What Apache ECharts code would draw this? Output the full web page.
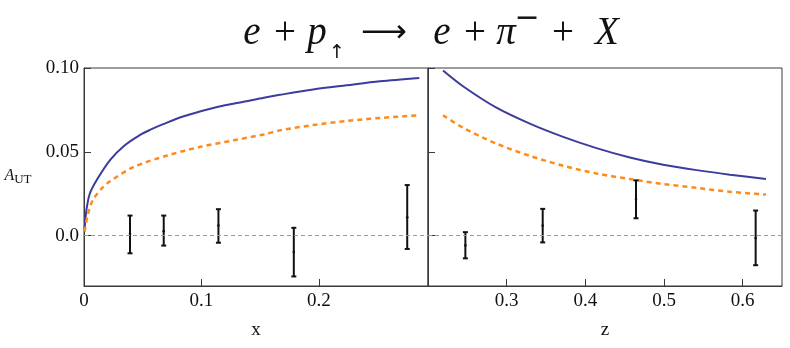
<!DOCTYPE html>
<html>
<head>
<meta charset="utf-8">
<script src="https://cdn.jsdelivr.net/npm/echarts@6/dist/echarts.min.js"></script>
<style>
    html, body { margin: 0; padding: 0; background: #fff; }
    #main { width: 790px; height: 348px; }
</style>
</head>
<body>
<div id="main"></div>
<script>
'use strict';

// model curves vs x  [x, A_UT]
var xCurveSolid = [
    [0.0005, 0.004], [0.002, 0.015], [0.0049, 0.025], [0.0111, 0.0335],
    [0.0225, 0.0454], [0.0338, 0.0534], [0.0475, 0.060], [0.0566, 0.0632],
    [0.0674, 0.0665], [0.085, 0.0712], [0.1134, 0.0767], [0.1384, 0.0802],
    [0.1532, 0.0823], [0.1668, 0.084], [0.1952, 0.0872], [0.2237, 0.0897],
    [0.2521, 0.0921], [0.2856, 0.0941]
];
var xCurveDashed = [
    [0.0005, 0.0025], [0.0034, 0.013], [0.0077, 0.0215], [0.0162, 0.029],
    [0.0225, 0.0326], [0.0424, 0.041], [0.0708, 0.0478], [0.0992, 0.053],
    [0.1276, 0.0569], [0.1532, 0.0604], [0.1668, 0.0628], [0.1952, 0.066],
    [0.2237, 0.0684], [0.2521, 0.0702], [0.2856, 0.0718]
];
// model curves vs z
var zCurveSolid = [
    [0.2191, 0.0985], [0.2445, 0.0891], [0.287, 0.0763], [0.3294, 0.0668],
    [0.3718, 0.0589], [0.4142, 0.0522], [0.4566, 0.0466], [0.499, 0.0423],
    [0.5415, 0.0391], [0.5838, 0.0364], [0.6296, 0.0338]
];
var zCurveDashed = [
    [0.2191, 0.0718], [0.2445, 0.0644], [0.287, 0.0549], [0.3294, 0.0476],
    [0.3718, 0.0417], [0.4142, 0.0371], [0.4566, 0.0338], [0.499, 0.0308],
    [0.5415, 0.0285], [0.5838, 0.0262], [0.6296, 0.0245]
];

// data points  [bin, value, low, high]
var xPoints = [
    [0.0392, 0.0012, -0.0105, 0.012],
    [0.0679, 0.0027, -0.0059, 0.012],
    [0.1145, 0.0061, -0.0042, 0.0158],
    [0.1787, -0.0097, -0.0243, 0.0047],
    [0.2753, 0.011, -0.0079, 0.0302]
];
var zPoints = [
    [0.2475, -0.0058, -0.0135, 0.0021],
    [0.3458, 0.0061, -0.004, 0.016],
    [0.4644, 0.0219, 0.0104, 0.033],
    [0.6165, -0.0014, -0.0176, 0.015]
];

// tick labels
var yTickValues = [0, 0.05, 0.10];
var yTickLabels = ['0.0', '0.05', '0.10'];
var xTickLabels = { '0': '0', '0.1': '0.1', '0.2': '0.2' };
var zTickLabels = { '0.3': '0.3', '0.4': '0.4', '0.5': '0.5', '0.6': '0.6' };

var serif = '"Liberation Serif", "DejaVu Serif", serif';
var sans = '"DejaVu Sans", sans-serif';
var frameColor = '#3a3a3a';
var solidColor = '#3c3c9c';
var dashedColor = '#ff8a1c';

function renderErrorBar(params, api) {
    var x = api.value(0);
    var mid = api.coord([x, api.value(1)]);
    var low = api.coord([x, api.value(2)]);
    var high = api.coord([x, api.value(3)]);
    var cap = 2.5;
    var style = { stroke: '#111', lineWidth: 2 };
    return {
        type: 'group',
        children: [
            { type: 'line', shape: { x1: high[0], y1: high[1], x2: low[0], y2: low[1] }, style: style },
            { type: 'line', shape: { x1: high[0] - cap, y1: high[1], x2: high[0] + cap, y2: high[1] }, style: style },
            { type: 'line', shape: { x1: low[0] - cap, y1: low[1], x2: low[0] + cap, y2: low[1] }, style: style },
            { type: 'circle', shape: { cx: mid[0], cy: mid[1], r: 1.3 }, style: { fill: '#111' } }
        ]
    };
}

function yAxisFor(gridIndex, showLabels) {
    return {
        type: 'value',
        gridIndex: gridIndex,
        min: -0.03,
        max: 0.10,
        splitLine: { show: false },
        axisLine: { show: true, onZero: false, lineStyle: { color: frameColor, width: 1 } },
        axisTick: {
            show: true, inside: true, length: 7,
            customValues: yTickValues,
            lineStyle: { color: frameColor }
        },
        axisLabel: {
            show: showLabels,
            customValues: yTickValues,
            margin: 5,
            fontFamily: serif,
            fontSize: 19,
            color: '#111',
            formatter: function(v) {
                var i = yTickValues.indexOf(v);
                return i >= 0 ? yTickLabels[i] : '';
            }
        }
    };
}

function xAxisFor(gridIndex, min, max, name, labels) {
    return {
        type: 'value',
        gridIndex: gridIndex,
        min: min,
        max: max,
        interval: 0.1,
        name: name,
        nameLocation: 'middle',
        nameGap: 35,
        nameTextStyle: { fontFamily: serif, fontSize: 19, color: '#111' },
        splitLine: { show: false },
        axisLine: { show: true, onZero: false, lineStyle: { color: frameColor, width: 1 } },
        axisTick: { show: true, inside: true, length: 7, lineStyle: { color: frameColor } },
        axisLabel: {
            margin: 6,
            fontFamily: serif,
            fontSize: 19,
            color: '#111',
            showMinLabel: min === 0,
            showMaxLabel: false,
            formatter: function(v) {
                var key = String(Math.round(v * 10) / 10);
                return labels[key] || '';
            }
        }
    };
}

function curve(name, data, idx, dashed) {
    return {
        name: name,
        type: 'line',
        xAxisIndex: idx,
        yAxisIndex: idx,
        data: data,
        smooth: 0.3,
        showSymbol: false,
        z: 3,
        lineStyle: dashed
            ? { color: dashedColor, width: 2.5, type: [5, 4] }
            : { color: solidColor, width: 2 }
    };
}

function titleGlyph(text, cx, cy, size, italic, family) {
    return {
        type: 'text',
        x: cx,
        y: cy,
        style: {
            text: text,
            align: 'center',
            verticalAlign: 'middle',
            fontFamily: family || serif,
            fontStyle: italic ? 'italic' : 'normal',
            fontSize: size,
            fill: '#111'
        }
    };
}

//A_UT chart
function drawChart() {
    var myChart = echarts.init(document.getElementById('main'));
    var zeroLine = {
        silent: true,
        symbol: 'none',
        label: { show: false },
        lineStyle: { color: '#999', type: [4, 3], width: 1 },
        data: [{ yAxis: 0 }]
    };
    var option = {
        animation: false,
        backgroundColor: '#fff',
        grid: [
            { left: 84, top: 68, width: 344, height: 218, show: true, borderColor: frameColor, borderWidth: 1 },
            { left: 428, top: 68, width: 354, height: 218, show: true, borderColor: frameColor, borderWidth: 1 }
        ],
        xAxis: [
            xAxisFor(0, 0, 0.293, 'x', xTickLabels),
            xAxisFor(1, 0.2, 0.65, 'z', zTickLabels)
        ],
        yAxis: [
            yAxisFor(0, true),
            yAxisFor(1, false)
        ],
        graphic: [
            // e + p_up --> e + pi^- + X
            titleGlyph('e', 252, 34, 39, true),
            titleGlyph('+', 285, 34, 39, false),
            titleGlyph('p', 317, 34, 39, true),
            titleGlyph('\u2191', 337, 53, 19, false, sans),
            titleGlyph('\u27f6', 384, 34, 32, false, sans),
            titleGlyph('e', 442, 34, 39, true),
            titleGlyph('+', 475, 34, 39, false),
            titleGlyph('\u03c0', 506, 34, 39, true),
            titleGlyph('\u2212', 527, 19, 30, false, sans),
            titleGlyph('+', 563, 34, 39, false),
            titleGlyph('X', 607, 34, 39, true),
            {
                type: 'text',
                x: 18,
                y: 176,
                style: {
                    text: '{a|A}{b|UT}',
                    align: 'center',
                    verticalAlign: 'middle',
                    rich: {
                        a: { fontFamily: serif, fontStyle: 'italic', fontSize: 16, lineHeight: 20, fill: '#111' },
                        b: { fontFamily: serif, fontSize: 13, lineHeight: 20, verticalAlign: 'bottom', fill: '#111' }
                    }
                }
            }
        ],
        series: [
            Object.assign(curve('solid x', xCurveSolid, 0, false), { markLine: zeroLine }),
            curve('dashed x', xCurveDashed, 0, true),
            Object.assign(curve('solid z', zCurveSolid, 1, false), { markLine: zeroLine }),
            curve('dashed z', zCurveDashed, 1, true),
            {
                name: 'data x',
                type: 'custom',
                xAxisIndex: 0,
                yAxisIndex: 0,
                renderItem: renderErrorBar,
                encode: { x: 0, y: [1, 2, 3] },
                data: xPoints,
                z: 4
            },
            {
                name: 'data z',
                type: 'custom',
                xAxisIndex: 1,
                yAxisIndex: 1,
                renderItem: renderErrorBar,
                encode: { x: 0, y: [1, 2, 3] },
                data: zPoints,
                z: 4
            }
        ]
    };
    myChart.setOption(option);
}

drawChart();
</script>
</body>
</html>
